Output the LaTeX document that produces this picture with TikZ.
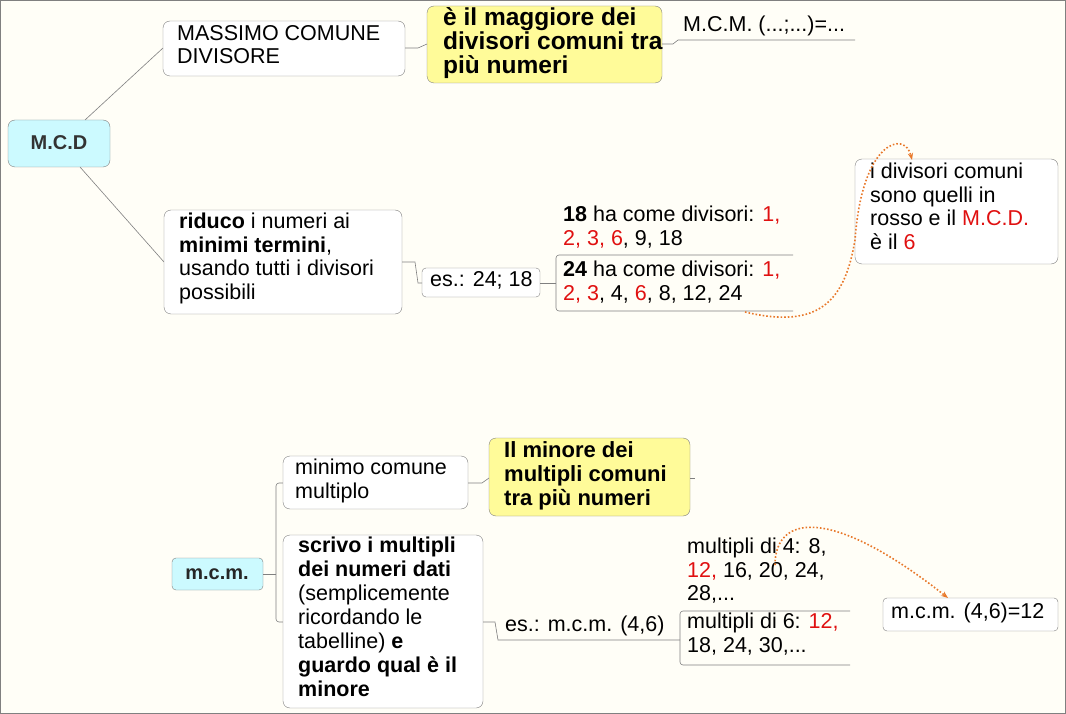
\documentclass[tikz,border=0pt]{standalone}
\usepackage{fontspec}
\setmainfont{Liberation Sans}
\usetikzlibrary{arrows.meta}
\definecolor{bg}{HTML}{FFFEF7}
\definecolor{cy}{HTML}{CCFAFF}
\definecolor{ye}{HTML}{FFFB99}
\definecolor{rd}{HTML}{E01010}
\definecolor{org}{HTML}{E8782A}
\definecolor{ln}{HTML}{808080}
\newcommand{\R}[1]{\textcolor{rd}{#1}}
\begin{document}
\begin{tikzpicture}[x=1pt,y=-1pt,
 box/.style={draw=ln,rounded corners=7pt,fill=white,inner sep=0pt},
 txt/.style={anchor=north west,align=left,inner sep=0pt,font=\fontsize{21.5}{23.5}\selectfont},
 btxt/.style={txt,font=\fontsize{22}{24}\selectfont\bfseries},
 con/.style={draw=ln,line width=0.6pt},
 dot/.style={draw=org,line width=1.6pt,dotted,-{Stealth[length=7pt]}}]
\fill[bg] (0,0) rectangle (1066,714);
\draw[ln,line width=1.2pt] (0.6,0.6) rectangle (1065.4,713.4);
% top
\draw[box,fill=cy] (8,120) rectangle (110,167);
\node[font=\fontsize{20}{22}\selectfont\bfseries,text=black!80] (mcd) at (59,143) {M.C.D};
\draw[box] (163,21) rectangle (405,76);
\node[txt] (mas) at (177,25) {MASSIMO COMUNE\\DIVISORE};
\draw[box,fill=ye] (427,6) rectangle (662,83);
\node[txt,font=\fontsize{24.5}{24}\selectfont\bfseries] (mag) at (443,7) {è il maggiore dei\\divisori comuni tra\\più numeri};
\node[txt] (MCM) at (683,16) {M.C.M. (...;...)=...};
\draw[con] (662,44) -- (673,44) -- (678,40) -- (855,40);
\draw[con] (405,48) -- (418,48) -- (427,44);
\draw[con] (85,120) -- (163,48);
\draw[con] (80,167) -- (164,262);
\draw[box] (164,210) rectangle (402,314);
\node[txt] (rid) at (179,213) {\textbf{riduco} i numeri ai\\\textbf{minimi termini},\\usando tutti i divisori\\possibili};
\draw[box,rounded corners=4pt] (422,268) rectangle (540,297);
\node[txt] (es1) at (430,271) {es.: 24; 18};
\draw[con] (402,262) -- (415,262) -- (418,283) -- (422,283);
\draw[con] (540,283) -- (556,283);
\node[txt] (d18) at (563,206) {\textbf{18} ha come divisori: \R{1,}\\\R{2, 3, 6}, 9, 18};
\draw[con,rounded corners=3pt] (793,255) -- (556,255) -- (556,311) -- (793,311);
\node[txt] (d24) at (563,261) {\textbf{24} ha come divisori: \R{1,}\\\R{2, 3}, 4, \R{6}, 8, 12, 24};
\draw[box] (855,159) rectangle (1058,264);
\node[txt] (idv) at (870,163) {i divisori comuni\\sono quelli in\\rosso e il \R{M.C.D.}\\è il \R{6}};
\draw[dot] (745,312) .. controls (820,330) and (845,300) .. (855,240) .. controls (862,140) and (905,130) .. (912,160);
% bottom
\draw[box,fill=cy,rounded corners=4pt] (172,558) rectangle (263,590);
\node[font=\fontsize{20}{22}\selectfont\bfseries,text=black!85] (mcm) at (217,574) {m.c.m.};
\draw[con] (263,574) -- (276,574);
\draw[con,rounded corners=3pt] (283,483) -- (276,483) -- (276,622) -- (284,622);
\draw[box] (283,456) rectangle (468,509);
\node[txt] (min) at (295,459) {minimo comune\\multiplo};
\draw[box,fill=ye] (489,438) rectangle (690,516);
\node[btxt] (min2) at (504,441) {Il minore dei\\multipli comuni\\tra più numeri};
\draw[con] (468,483) -- (482,483) -- (489,478);
\draw[con] (690,478) -- (695,478);
\draw[box] (283,535) rectangle (483,708);
\node[txt,font=\fontsize{21.5}{24}\selectfont] (scr) at (298,537) {\textbf{scrivo i multipli}\\\textbf{dei numeri dati}\\(semplicemente\\ricordando le\\tabelline) \textbf{e}\\\textbf{guardo qual è il}\\\textbf{minore}};
\node[txt] (es2) at (505,616) {es.: m.c.m. (4,6)};
\draw[con] (483,622) -- (495,622) -- (498,640) -- (680,640);
\node[txt] (m4) at (687,538) {multipli di 4: 8,\\\R{12,} 16, 20, 24,\\28,...};
\draw[con,rounded corners=3pt] (850,611) -- (680,611) -- (680,665) -- (850,665);
\node[txt] (m6) at (687,613) {multipli di 6: \R{12,}\\18, 24, 30,...};
\draw[box,rounded corners=4pt] (883,598) rectangle (1058,631);
\node[txt] (res) at (891,603) {m.c.m. (4,6)=12};
\draw[dot] (775,565) .. controls (775,515) and (830,505) .. (948,598);
\end{tikzpicture}
\end{document}
